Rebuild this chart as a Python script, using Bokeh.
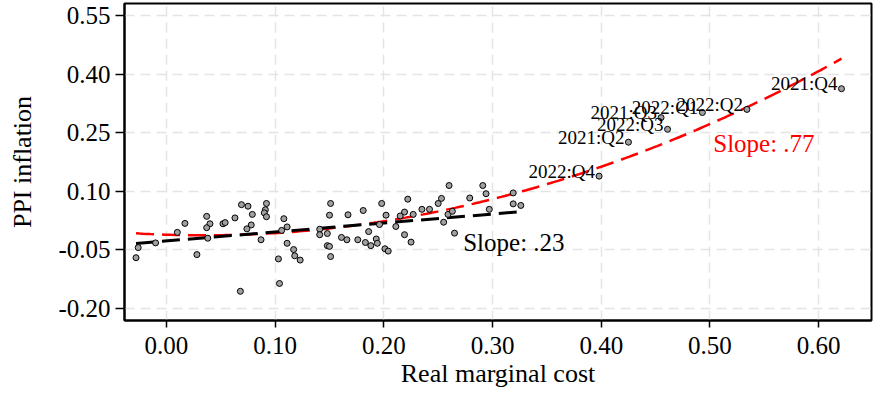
import numpy as np
from bokeh.plotting import figure
from bokeh.models import ColumnDataSource, Range1d, FixedTicker
from bokeh.core.properties import value
from bokeh.embed import file_html
from bokeh.resources import INLINE

# Quarterly observations before 2021: real marginal cost vs PPI inflation
rmc_pre = [
    -0.028, -0.026, -0.010, 0.010, 0.017, 0.028, 0.037, 0.040, 0.037, 0.038,
    0.052, 0.054, 0.063, 0.069, 0.075, 0.079, 0.078, 0.074, 0.087, 0.092,
    0.091, 0.090, 0.092, 0.108, 0.111, 0.106, 0.111, 0.117, 0.118, 0.123,
    0.103, 0.104, 0.068, 0.151, 0.150, 0.141, 0.141, 0.148, 0.148, 0.150,
    0.151, 0.161, 0.166, 0.167, 0.176, 0.181, 0.183, 0.186, 0.188, 0.193,
    0.194, 0.198, 0.202, 0.196, 0.201, 0.204, 0.211, 0.215, 0.219, 0.222,
    0.219, 0.225, 0.227, 0.235, 0.242, 0.250, 0.253, 0.260, 0.255, 0.259,
    0.263, 0.265, 0.279, 0.291, 0.294, 0.297, 0.319, 0.319, 0.326,
]
ppi_pre = [
    -0.070, -0.044, -0.032, -0.005, 0.018, -0.062, 0.036, 0.017, 0.007, -0.020,
    0.017, 0.020, 0.032, 0.066, 0.062, 0.041, 0.014, 0.004, -0.024, 0.069,
    0.053, 0.045, 0.035, 0.030, 0.009, 0.000, -0.033, -0.049, -0.065, -0.076,
    -0.073, -0.136, -0.156, 0.069, 0.039, 0.003, -0.011, -0.008, -0.039, -0.041,
    -0.067, -0.018, -0.024, 0.040, -0.024, 0.051, -0.031, -0.003, -0.039, -0.022,
    -0.033, 0.069, 0.039, 0.015, -0.047, -0.053, 0.010, 0.037, 0.047, 0.080,
    -0.011, -0.030, 0.041, 0.054, 0.054, 0.069, 0.082, 0.115, 0.021, 0.041,
    0.049, -0.007, 0.083, 0.115, 0.094, 0.054, 0.096, 0.068, 0.064,
]

# Labelled recent quarters
quarters = ["2021:Q2", "2021:Q3", "2021:Q4", "2022:Q1", "2022:Q2", "2022:Q3", "2022:Q4"]
rmc_recent = [0.425, 0.455, 0.621, 0.493, 0.534, 0.461, 0.398]
ppi_recent = [0.226, 0.289, 0.363, 0.302, 0.310, 0.259, 0.139]

# Fitted relationships
lin_intercept, lin_slope = -0.027, 0.23           # pre-2021 linear fit
quad_a, quad_b, quad_c = -0.011, -0.090, 1.314    # quadratic fit, full sample
slope_texts = ["Slope: .23", "Slope: .77"]
slope_x = [0.273, 0.503]
slope_y = [-0.030, 0.223]

x_ticks = [0.0, 0.1, 0.2, 0.3, 0.4, 0.5, 0.6]
x_tick_labels = ["0.00", "0.10", "0.20", "0.30", "0.40", "0.50", "0.60"]
y_ticks = [-0.20, -0.05, 0.10, 0.25, 0.40, 0.55]
y_tick_labels = ["-0.20", "-0.05", "0.10", "0.25", "0.40", "0.55"]

SERIF = "Liberation Serif"

p = figure(
    width=873, height=398,
    x_range=Range1d(-0.0386, 0.6486),
    y_range=Range1d(-0.2308, 0.5813),
    output_backend="svg", toolbar_location=None,
    min_border_left=124, min_border_right=2,
    min_border_top=3, min_border_bottom=78,
)
p.background_fill_color = "white"
p.border_fill_color = "white"
p.outline_line_color = "black"
p.outline_line_width = 2

# Axes
p.xaxis.ticker = FixedTicker(ticks=x_ticks)
p.yaxis.ticker = FixedTicker(ticks=y_ticks)
p.xaxis.major_label_overrides = dict(zip(x_ticks, x_tick_labels))
p.yaxis.major_label_overrides = dict(zip(y_ticks, y_tick_labels))
p.xaxis.axis_label = "Real marginal cost"
p.yaxis.axis_label = "PPI inflation"
for ax in (p.xaxis[0], p.yaxis[0]):
    ax.axis_line_color = "black"
    ax.axis_line_width = 2
    ax.major_tick_line_color = "black"
    ax.major_tick_line_width = 1.5
    ax.major_tick_in = 0
    ax.minor_tick_line_color = None
    ax.major_label_text_font = SERIF
    ax.major_label_text_font_size = "25px"
    ax.major_label_text_color = "black"
    ax.axis_label_text_font = SERIF
    ax.axis_label_text_font_size = "26px"
    ax.axis_label_text_font_style = "normal"
    ax.axis_label_text_color = "black"
p.xaxis.major_tick_out = 7
p.yaxis.major_tick_out = 9
p.xaxis.major_label_standoff = 9
p.yaxis.major_label_standoff = 5
p.xaxis.axis_label_standoff = 2
p.yaxis.axis_label_standoff = 18

# Grid
p.xgrid.ticker = FixedTicker(ticks=x_ticks)
p.ygrid.ticker = FixedTicker(ticks=y_ticks)
for g in (p.xgrid[0], p.ygrid[0]):
    g.grid_line_color = "#e4e4e4"
    g.grid_line_width = 1.5
    g.grid_line_dash = "10 6"

# Fit lines
all_x = np.array(rmc_pre + rmc_recent)
xq = np.linspace(all_x.min(), all_x.max(), 200)
p.line(xq, quad_a + quad_b * xq + quad_c * xq ** 2,
       line_color="red", line_width=2.5, line_dash="18 8")
xl = np.array([min(rmc_pre), max(rmc_pre)])
p.line(xl, lin_intercept + lin_slope * xl,
       line_color="black", line_width=3, line_dash="18 8")

# Observations
p.scatter(x=rmc_pre + rmc_recent, y=ppi_pre + ppi_recent, size=6,
          fill_color="#a0a0a0", line_color="black", line_width=1)

# Quarter labels
qsrc = ColumnDataSource(dict(x=rmc_recent, y=ppi_recent, t=quarters))
p.text(x="x", y="y", text="t", source=qsrc, text_align="right",
       text_baseline="alphabetic", x_offset=-4, y_offset=-5,
       text_font=value(SERIF), text_font_size="19px", text_color="black")

# Slope annotations
p.text(x=slope_x, y=slope_y, text=slope_texts, text_color=["black", "red"],
       text_align="left", text_baseline="alphabetic",
       text_font=value(SERIF), text_font_size="25px")

open("out.html", "w").write(file_html(p, INLINE))
